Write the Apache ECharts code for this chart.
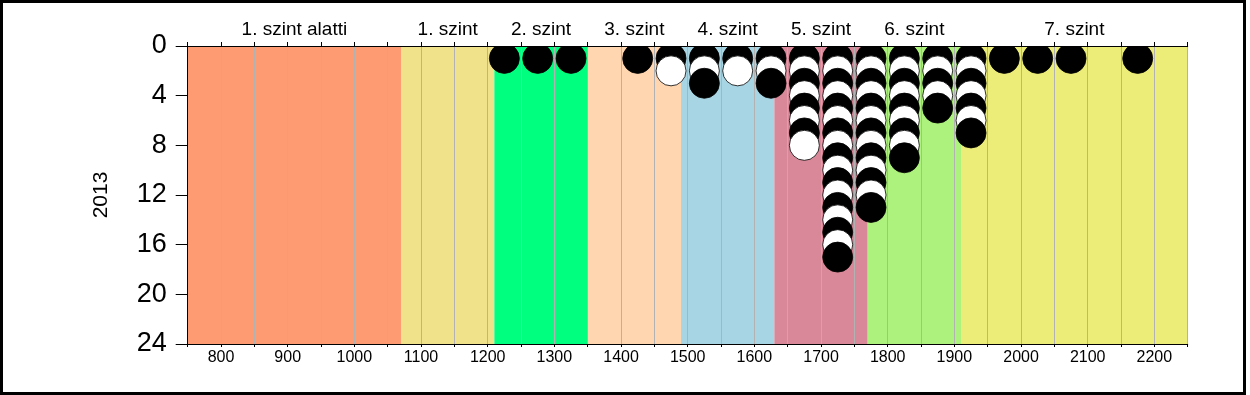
<!DOCTYPE html>
<html>
<head>
<meta charset="utf-8">
<script src="https://cdn.jsdelivr.net/npm/echarts@6/dist/echarts.min.js"></script>
<style>
html,body{margin:0;padding:0;background:#fff;}
#chart{position:absolute;left:0;top:0;width:1250px;height:395px;}
#frame{position:absolute;left:0;top:0;width:1246px;height:395px;box-sizing:border-box;border:3px solid #000;pointer-events:none;}
</style>
</head>
<body>
<div id="chart"></div>
<div id="frame"></div>
<script>
// ---- data ----
const bandNames  = ['1. szint alatti', '1. szint', '2. szint', '3. szint', '4. szint', '5. szint', '6. szint', '7. szint'];
const bandStarts = [750, 1070, 1210, 1350, 1490, 1630, 1770, 1910];
const bandEnds   = [1070, 1210, 1350, 1490, 1630, 1770, 1910, 2250];
const dotColumns = [1225, 1275, 1325, 1425, 1475, 1525, 1575, 1625, 1675, 1725, 1775, 1825, 1875, 1925, 1975, 2025, 2075, 2175];
const dotCounts  = [1, 1, 1, 1, 2, 3, 2, 3, 8, 17, 13, 9, 5, 7, 1, 1, 1, 1];
const xTickLabels = [800, 900, 1000, 1100, 1200, 1300, 1400, 1500, 1600, 1700, 1800, 1900, 2000, 2100, 2200];
const yTickLabels = [0, 4, 8, 12, 16, 20, 24];
const yAxisName = '2013';

// ---- styles ----
const bandColors = ['#FF9B73', '#EFE28A', '#00FF7F', '#FFD6B0', '#A8D5E3', '#D98899', '#ADF27C', '#ECEC79'];
const FONT = 'Arial, "Liberation Sans", sans-serif';

const bandData = bandNames.map((n, i) => [bandStarts[i], bandEnds[i], i]);
const dotData = [];
dotColumns.forEach((x, i) => {
  for (let k = 1; k <= dotCounts[i]; k++) dotData.push([x, k, k % 2 === 0 ? 1 : 0]);
});

const chart = echarts.init(document.getElementById('chart'), null, {renderer: 'canvas'});
chart.setOption({
  animation: false,
  backgroundColor: 'transparent',
  grid: {left: 187.7, right: 62.3, top: 46, bottom: 51, containLabel: false},
  xAxis: [{
    type: 'value', position: 'bottom', min: 750, max: 2250, interval: 50, z: 2,
    axisLine: {show: true, onZero: false, lineStyle: {color: '#000', width: 1}},
    axisTick: {show: true, length: 3, lineStyle: {color: '#000'}},
    axisLabel: {show: true, margin: 6, fontSize: 16, color: '#000', fontFamily: FONT,
      formatter: v => xTickLabels.indexOf(v) >= 0 ? String(v) : ''},
    splitLine: {show: true, lineStyle: {color: '#B2B2B2', width: 1}}
  }, {
    type: 'value', position: 'top', min: 750, max: 2250, interval: 50, z: 2,
    axisLine: {show: true, onZero: false, lineStyle: {color: '#000', width: 1}},
    axisTick: {show: true, length: 4, lineStyle: {color: '#000'}},
    axisLabel: {show: false},
    splitLine: {show: false}
  }],
  yAxis: {
    type: 'value', inverse: true, min: 0, max: 24, interval: 4, z: 2,
    name: yAxisName, nameLocation: 'middle', nameGap: 76, nameRotate: 90,
    nameTextStyle: {fontSize: 21, color: '#000', fontFamily: FONT},
    axisLine: {show: true, onZero: false, lineStyle: {color: '#000', width: 1}},
    axisTick: {show: true, length: 12, lineStyle: {color: '#000'}},
    axisLabel: {show: true, margin: 21, fontSize: 27, color: '#000', fontFamily: FONT,
      formatter: v => yTickLabels.indexOf(v) >= 0 ? String(v) : ''},
    splitLine: {show: false}
  },
  series: [{
    type: 'custom', z: 1, clip: false, silent: true,
    data: bandData,
    renderItem: (params, api) => {
      const p0 = api.coord([api.value(0), 0]);
      const p1 = api.coord([api.value(1), 24]);
      const idx = api.value(2);
      return {
        type: 'group',
        children: [{
          type: 'rect',
          shape: {x: p0[0], y: p0[1], width: p1[0] - p0[0], height: p1[1] - p0[1]},
          style: {fill: bandColors[idx]}
        }, {
          type: 'text',
          x: (p0[0] + p1[0]) / 2, y: p0[1] - 16,
          style: {text: bandNames[idx], fill: '#000', font: '19px ' + FONT, align: 'center', verticalAlign: 'middle'}
        }]
      };
    }
  }, {
    type: 'custom', z: 3, clip: true, silent: true,
    data: dotData,
    renderItem: (params, api) => {
      const p = api.coord([api.value(0), api.value(1)]);
      const white = api.value(2) === 1;
      return {
        type: 'circle',
        shape: {cx: p[0], cy: p[1], r: 15},
        style: {fill: white ? '#fff' : '#000', stroke: '#000', lineWidth: 0.8}
      };
    }
  }]
});
</script>
</body>
</html>
